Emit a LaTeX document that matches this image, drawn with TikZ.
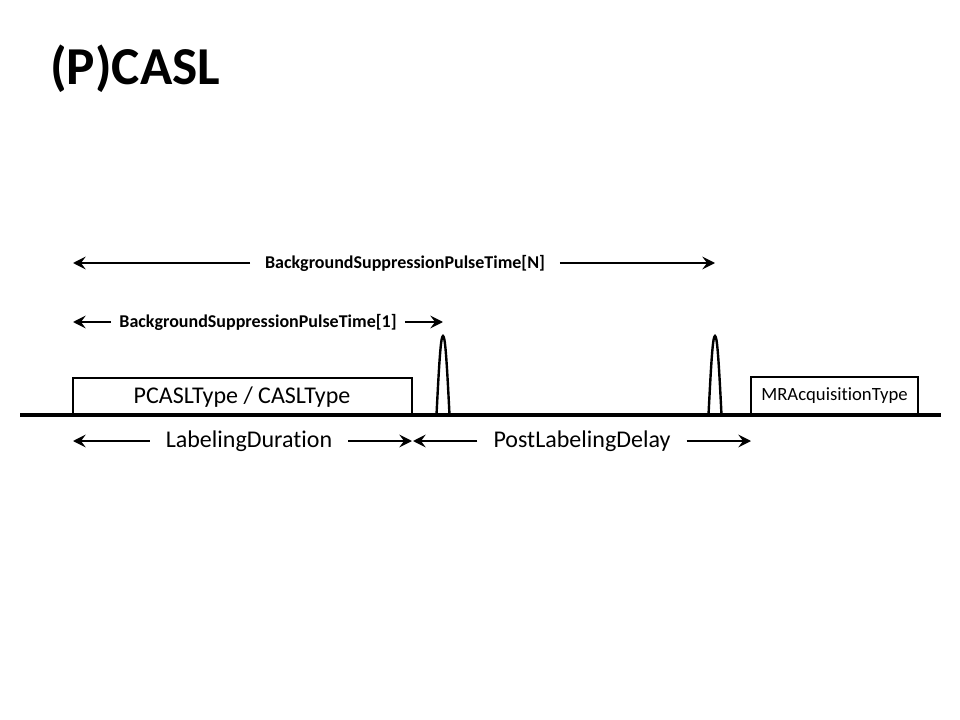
\documentclass[tikz,border=0pt]{standalone}
\usepackage{fontspec}
\setmainfont{Carlito}[Ligatures={NoCommon,NoContextual}]
\usetikzlibrary{arrows.meta}
\usetikzlibrary{positioning}
\usetikzlibrary{calc}

\begin{document}
\begin{tikzpicture}[x=0.75pt, y=-0.75pt]
    \tikzset{
        timearrow/.style={-{Stealth[length=9.5pt, width=9.5pt, inset=3.5pt]}, line width=2.1pt},
        bigtext/.style={font=\fontsize{18}{21}\selectfont, inner ysep=0pt, inner xsep=12pt},
        bstext/.style={font=\bfseries\fontsize{13.5}{15}\selectfont, inner ysep=0pt},
        blockbox/.style={line width=2.2pt},
        pulse/.style={line width=1.8pt}
    }
    \useasboundingbox (0,0) rectangle (960,720);

    % Title
    \node [anchor=west, inner sep=0pt, font=\bfseries\fontsize{40}{44}\selectfont] (title) at (50,69) {(P)CASL};

    % Time points on the axis
    \pgfmathsetmacro{\yaxis}{415}
    \coordinate (t0) at (73,\yaxis);
    \coordinate (t1) at (412,\yaxis);
    \coordinate (p1) at (443,\yaxis);
    \coordinate (pN) at (715,\yaxis);
    \coordinate (t2) at (751,\yaxis);
    \coordinate (t3) at (918,\yaxis);

    % Blocks
    \draw [blockbox] (t0) rectangle ($(t1)+(0,-37)$);
    \node [bigtext] (pcasl) at (242,397) {PCASLType / CASLType};

    \draw [blockbox] (t2) rectangle ($(t3)+(0,-38)$);
    \node [inner sep=0pt, font=\fontsize{14}{16}\selectfont] (mracq) at (834.5,396) {MRAcquisitionType};

    % Background suppression pulses
    \draw [pulse] ($(p1)+(-6.5,0)$) .. controls ($(p1)+(-3.5,-60)$) and ($(p1)+(-2,-79)$) .. ($(p1)+(0,-79)$)
        .. controls ($(p1)+(2,-79)$) and ($(p1)+(3.5,-60)$) .. ($(p1)+(6.5,0)$);
    \draw [pulse] ($(pN)+(-6.5,0)$) .. controls ($(pN)+(-3.5,-60)$) and ($(pN)+(-2,-79)$) .. ($(pN)+(0,-79)$)
        .. controls ($(pN)+(2,-79)$) and ($(pN)+(3.5,-60)$) .. ($(pN)+(6.5,0)$);

    % Axis
    \draw [line width=2.8pt] (20,\yaxis) -- (941,\yaxis);

    % Timing labels
    \node [bstext, inner xsep=11pt] (bsN) at (405,263) {BackgroundSuppressionPulseTime[N]};
    \draw [timearrow] (bsN) -- (t0 |- bsN);
    \draw [timearrow] (bsN) -- (pN |- bsN);

    \node [bstext, inner xsep=6pt] (bs1) at (258,322) {BackgroundSuppressionPulseTime[1]};
    \draw [timearrow] (bs1) -- (t0 |- bs1);
    \draw [timearrow] (bs1) -- (p1 |- bs1);

    \node [bigtext] (ld) at (249,441) {LabelingDuration};
    \draw [timearrow] (ld) -- (t0 |- ld);
    \draw [timearrow] (ld) -- (t1 |- ld);

    \node [bigtext] (pld) at (582,441) {PostLabelingDelay};
    \draw [timearrow] (pld) -- ($(t1 |- pld)+(1,0)$);
    \draw [timearrow] (pld) -- (t2 |- pld);

\end{tikzpicture}
\end{document}
